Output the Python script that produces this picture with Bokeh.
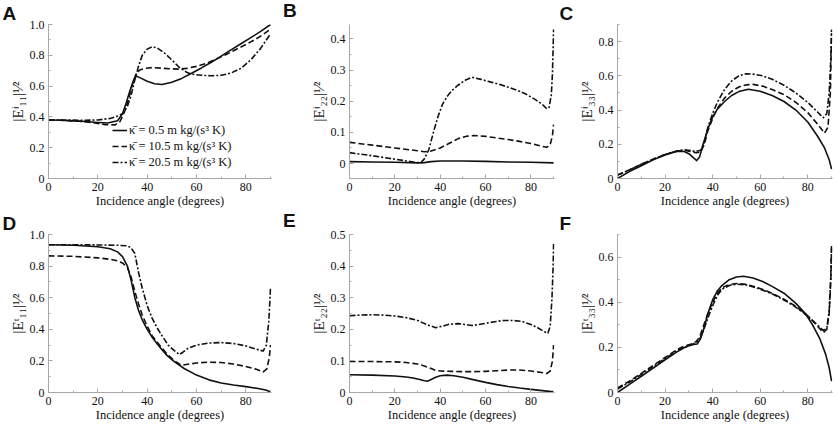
from bokeh.plotting import figure
from bokeh.layouts import row, column
from bokeh.models import Range1d, FixedTicker, CustomJSTickFormatter, Title, Div
from bokeh.embed import file_html
from bokeh.resources import INLINE

# ---------------- data ----------------
x_ticks = [0, 20, 40, 60, 80]
x_minor = [0, 10, 20, 30, 40, 50, 60, 70, 80, 90]

legend_labels = ["κ̄ = 0.5 m kg/(s³ K)", "κ̄ = 10.5 m kg/(s³ K)", "κ̄ = 20.5 m kg/(s³ K)"]
panel_letters = ["A", "B", "C", "D", "E", "F"]
y_labels = ["|Eⁱ₁₁|¹⁄²", "|Eⁱ₂₂|¹⁄²", "|Eⁱ₃₃|¹⁄²", "|Eᵗ₁₁|¹⁄²", "|Eᵗ₂₂|¹⁄²", "|Eᵗ₃₃|¹⁄²"]
x_label = "Incidence angle (degrees)"

# Panel A
a_ticks = [0, 0.2, 0.4, 0.6, 0.8, 1.0]
a_minor = [0, 0.1, 0.2, 0.3, 0.4, 0.5, 0.6, 0.7, 0.8, 0.9, 1.0]
a_solid_x = [0, 5, 10, 15, 20, 24, 28, 30, 31.5, 33, 34.5, 35.5, 37, 40, 43, 46, 50, 54, 58, 62, 66, 70, 74, 78, 82, 86, 90]
a_solid_y = [0.38, 0.378, 0.374, 0.37, 0.364, 0.36, 0.375, 0.42, 0.49, 0.57, 0.64, 0.665, 0.655, 0.632, 0.615, 0.61, 0.625, 0.65, 0.683, 0.718, 0.755, 0.795, 0.835, 0.875, 0.915, 0.955, 1.0]
a_dash_x = [0, 5, 10, 15, 20, 23, 27, 29, 31, 32.5, 34, 35.5, 37, 39, 42, 46, 50, 53, 56, 60, 64, 68, 72, 76, 80, 84, 87, 90]
a_dash_y = [0.38, 0.378, 0.374, 0.368, 0.358, 0.35, 0.348, 0.37, 0.44, 0.52, 0.61, 0.68, 0.705, 0.715, 0.72, 0.716, 0.712, 0.71, 0.715, 0.728, 0.748, 0.775, 0.805, 0.838, 0.87, 0.905, 0.935, 0.97]
a_dot_x = [0, 5, 10, 15, 20, 25, 28, 30, 32, 33.5, 34.5, 35.5, 36.5, 38, 40, 42, 44, 47, 50, 53, 56, 58, 62, 66, 70, 74, 78, 82, 86, 90]
a_dot_y = [0.38, 0.38, 0.379, 0.378, 0.38, 0.39, 0.405, 0.42, 0.47, 0.54, 0.61, 0.67, 0.73, 0.8, 0.84, 0.855, 0.848, 0.815, 0.77, 0.722, 0.69, 0.678, 0.67, 0.667, 0.67, 0.685, 0.715, 0.77, 0.845, 0.94]

# Panel B
b_ticks = [0, 0.1, 0.2, 0.3, 0.4]
b_minor = [-0.05, 0, 0.05, 0.1, 0.15, 0.2, 0.25, 0.3, 0.35, 0.4, 0.45]
b_solid_x = [0, 10, 20, 30, 33, 36, 40, 50, 60, 70, 80, 90]
b_solid_y = [0.006, 0.005, 0.004, 0.002, 0.003, 0.006, 0.008, 0.008, 0.007, 0.005, 0.004, 0.002]
b_dash_x = [0, 10, 20, 30, 33, 36, 40, 44, 48, 52, 55, 60, 65, 70, 75, 80, 84, 87, 88.5, 89.5, 90]
b_dash_y = [0.068, 0.059, 0.05, 0.041, 0.038, 0.04, 0.05, 0.065, 0.08, 0.088, 0.09, 0.087, 0.082, 0.077, 0.071, 0.064, 0.057, 0.052, 0.06, 0.09, 0.125]
b_dot_x = [0, 10, 20, 30, 31.5, 33, 35, 37, 39, 41, 43, 45, 48, 51, 54, 58, 62, 66, 70, 74, 78, 82, 85, 87, 88, 89, 89.5, 90]
b_dot_y = [0.035, 0.025, 0.014, 0.003, 0.003, 0.015, 0.045, 0.1, 0.15, 0.19, 0.215, 0.233, 0.252, 0.267, 0.277, 0.27, 0.262, 0.254, 0.245, 0.235, 0.222, 0.205, 0.19, 0.176, 0.18, 0.22, 0.29, 0.43]

# Panel C
c_ticks = [0, 0.2, 0.4, 0.6, 0.8]
c_minor = [0, 0.1, 0.2, 0.3, 0.4, 0.5, 0.6, 0.7, 0.8, 0.9]
c_solid_x = [0, 5, 10, 15, 20, 25, 28, 30, 32, 33.3, 34.5, 36, 38, 40, 42, 45, 48, 51, 55, 60, 65, 70, 75, 80, 84, 87, 89, 90]
c_solid_y = [0.0, 0.04, 0.075, 0.11, 0.138, 0.16, 0.158, 0.145, 0.12, 0.105, 0.125, 0.2, 0.29, 0.36, 0.405, 0.45, 0.485, 0.508, 0.522, 0.51, 0.485, 0.45, 0.4, 0.33, 0.25, 0.18, 0.11, 0.055]
c_dash_x = [0, 5, 10, 15, 20, 25, 28, 31, 33, 35, 36.5, 38, 40, 42, 45, 48, 51, 54, 57, 61, 65, 70, 75, 80, 84, 87, 88.5, 89.5, 90]
c_dash_y = [0.02, 0.05, 0.083, 0.113, 0.14, 0.16, 0.165, 0.158, 0.15, 0.155, 0.2, 0.28, 0.35, 0.41, 0.47, 0.51, 0.535, 0.547, 0.55, 0.54, 0.52, 0.49, 0.445, 0.385, 0.32, 0.265, 0.3, 0.5, 0.85]
c_dot_x = [0, 5, 10, 15, 20, 25, 28, 31, 33, 35, 36.5, 38, 40, 42, 45, 48, 51, 54, 57, 61, 65, 70, 75, 80, 84, 86.5, 88, 89, 89.7, 90]
c_dot_y = [0.02, 0.05, 0.083, 0.113, 0.14, 0.16, 0.168, 0.163, 0.158, 0.165, 0.21, 0.3, 0.38, 0.445, 0.52, 0.57, 0.6, 0.612, 0.61, 0.6, 0.58, 0.545, 0.5, 0.445, 0.39, 0.355, 0.38, 0.5, 0.7, 0.87]

# Panel D
d_ticks = [0, 0.2, 0.4, 0.6, 0.8, 1.0]
d_minor = [0, 0.1, 0.2, 0.3, 0.4, 0.5, 0.6, 0.7, 0.8, 0.9, 1.0]
d_solid_x = [0, 10, 20, 25, 28, 30, 32, 33.5, 35, 36.5, 38, 40, 42, 45, 48, 51, 55, 60, 65, 70, 75, 80, 85, 88, 90]
d_solid_y = [0.935, 0.932, 0.922, 0.91, 0.89, 0.86, 0.8, 0.71, 0.6, 0.52, 0.46, 0.4, 0.35, 0.29, 0.235, 0.195, 0.152, 0.11, 0.08, 0.06, 0.047, 0.037, 0.025, 0.016, 0.005]
d_dash_x = [0, 10, 20, 25, 28, 30, 32, 33.5, 35, 36.5, 38, 40, 42, 45, 48, 51, 54, 57, 60, 65, 70, 75, 80, 84, 87, 88.5, 89.5, 90]
d_dash_y = [0.865, 0.862, 0.852, 0.843, 0.833, 0.82, 0.79, 0.73, 0.64, 0.56, 0.49, 0.42, 0.36, 0.3, 0.245, 0.2, 0.172, 0.18, 0.187, 0.192, 0.19, 0.18, 0.165, 0.148, 0.13, 0.15, 0.22, 0.3]
d_dot_x = [0, 10, 20, 28, 32, 33.5, 35, 36.5, 38, 40, 42, 44, 46, 48.5, 51, 53, 54.5, 56.5, 60, 65, 70, 75, 80, 84, 87, 88.3, 89.3, 90]
d_dot_y = [0.935, 0.935, 0.934, 0.932, 0.928, 0.915, 0.88, 0.76, 0.66, 0.55, 0.47, 0.41, 0.36, 0.3, 0.265, 0.24, 0.255, 0.28, 0.3, 0.313, 0.316, 0.31, 0.295, 0.275, 0.262, 0.3, 0.45, 0.66]

# Panel E
e_ticks = [0, 0.1, 0.2, 0.3, 0.4, 0.5]
e_minor = [0, 0.05, 0.1, 0.15, 0.2, 0.25, 0.3, 0.35, 0.4, 0.45, 0.5]
e_solid_x = [0, 10, 20, 25, 28, 31, 33, 34.5, 36, 38, 40, 43, 46, 50, 55, 60, 65, 70, 75, 80, 85, 90]
e_solid_y = [0.056, 0.055, 0.052, 0.049, 0.046, 0.041, 0.037, 0.036, 0.041, 0.048, 0.053, 0.055, 0.053, 0.048, 0.04, 0.032, 0.025, 0.019, 0.014, 0.01, 0.006, 0.002]
e_dash_x = [0, 10, 20, 25, 30, 33, 36, 38, 40, 45, 50, 55, 60, 65, 70, 75, 80, 84, 87, 88.5, 89.5, 90]
e_dash_y = [0.098, 0.098, 0.097, 0.095, 0.09, 0.084, 0.076, 0.07, 0.068, 0.067, 0.066, 0.066, 0.067, 0.069, 0.071, 0.071, 0.068, 0.064, 0.06, 0.068, 0.1, 0.15]
e_dot_x = [0, 5, 10, 15, 20, 25, 30, 34, 38, 41, 44, 48, 51, 54, 57, 60, 64, 68, 72, 76, 80, 83, 86, 87.5, 88.5, 89.3, 89.8, 90]
e_dot_y = [0.243, 0.245, 0.246, 0.245, 0.242, 0.237, 0.228, 0.215, 0.205, 0.21, 0.216, 0.218, 0.215, 0.212, 0.215, 0.219, 0.224, 0.228, 0.228, 0.225, 0.215, 0.205, 0.192, 0.188, 0.21, 0.3, 0.4, 0.47]

# Panel F
f_ticks = [0, 0.2, 0.4, 0.6]
f_minor = [0, 0.1, 0.2, 0.3, 0.4, 0.5, 0.6, 0.7]
f_solid_x = [0, 5, 10, 15, 20, 25, 28, 30, 32, 33.5, 35, 36.5, 38, 40, 42, 44, 47, 50, 53, 57, 61, 65, 70, 75, 79, 82, 85, 87.5, 89, 90]
f_solid_y = [0.0, 0.036, 0.072, 0.108, 0.145, 0.18, 0.198, 0.207, 0.213, 0.215, 0.24, 0.29, 0.35, 0.41, 0.45, 0.475, 0.5, 0.512, 0.515, 0.507, 0.492, 0.47, 0.44, 0.395, 0.35, 0.3, 0.24, 0.17, 0.11, 0.05]
f_dash_x = [0, 5, 10, 15, 20, 25, 28, 31, 33, 34.5, 36, 38, 40, 42, 44, 47, 50, 54, 58, 62, 66, 70, 74, 78, 81, 84, 86.5, 88, 89, 89.7, 90]
f_dash_y = [0.02, 0.05, 0.085, 0.12, 0.155, 0.19, 0.205, 0.215, 0.225, 0.245, 0.29, 0.35, 0.4, 0.44, 0.465, 0.478, 0.483, 0.479, 0.468, 0.453, 0.435, 0.413, 0.388, 0.358, 0.33, 0.295, 0.265, 0.28, 0.35, 0.5, 0.64]
f_dot_x = [0, 5, 10, 15, 20, 25, 28, 31, 33, 34.5, 36, 38, 40, 42, 44, 47, 50, 54, 58, 62, 66, 70, 74, 78, 81, 84, 86.5, 88, 89, 89.7, 90]
f_dot_y = [0.015, 0.045, 0.08, 0.115, 0.15, 0.185, 0.2, 0.212, 0.22, 0.235, 0.27, 0.33, 0.385, 0.43, 0.458, 0.474, 0.48, 0.477, 0.465, 0.45, 0.432, 0.41, 0.385, 0.355, 0.328, 0.3, 0.275, 0.285, 0.36, 0.52, 0.65]

# ---------------- styling ----------------
SERIF = "Liberation Serif"
SANS = "Liberation Sans"
AX = "#a8a8a8"
INK = "#111111"
DASHES = ["solid", "6 3", "6 2 2 2"]

TOP_H, BOT_H = 210, 215
MID_GAP = 27   # empty column left of the middle panels (holds their letters)
panels = [
    dict(ylim=(0, 1.0), ticks=a_ticks, minor=a_minor,
         series=[(a_solid_x, a_solid_y), (a_dash_x, a_dash_y), (a_dot_x, a_dot_y)],
         w=280, h=TOP_H, bl=48, br=9, bt=24, bb=32, loff=-46),
    dict(ylim=(-0.048, 0.446), ticks=b_ticks, minor=b_minor,
         series=[(b_solid_x, b_solid_y), (b_dash_x, b_dash_y), (b_dot_x, b_dot_y)],
         w=277 - MID_GAP, h=TOP_H, bl=32, br=3, bt=24, bb=32, loff=None),
    dict(ylim=(0, 0.9), ticks=c_ticks, minor=c_minor,
         series=[(c_solid_x, c_solid_y), (c_dash_x, c_dash_y), (c_dot_x, c_dot_y)],
         w=277, h=TOP_H, bl=60, br=2, bt=24, bb=32, loff=-58),
    dict(ylim=(0, 1.0), ticks=d_ticks, minor=d_minor,
         series=[(d_solid_x, d_solid_y), (d_dash_x, d_dash_y), (d_dot_x, d_dot_y)],
         w=280, h=BOT_H, bl=48, br=9, bt=24, bb=33, loff=-46),
    dict(ylim=(0, 0.5), ticks=e_ticks, minor=e_minor,
         series=[(e_solid_x, e_solid_y), (e_dash_x, e_dash_y), (e_dot_x, e_dot_y)],
         w=277 - MID_GAP, h=BOT_H, bl=32, br=3, bt=24, bb=33, loff=None),
    dict(ylim=(0, 0.7), ticks=f_ticks, minor=f_minor,
         series=[(f_solid_x, f_solid_y), (f_dash_x, f_dash_y), (f_dot_x, f_dot_y)],
         w=277, h=BOT_H, bl=60, br=2, bt=24, bb=33, loff=-58),
]

figs = []
for i, cfg in enumerate(panels):
    p = figure(width=cfg["w"], height=cfg["h"], output_backend="svg", toolbar_location=None,
               x_range=Range1d(0, 90.4), y_range=Range1d(*cfg["ylim"]),
               min_border_left=cfg["bl"], min_border_right=cfg["br"],
               min_border_top=cfg["bt"], min_border_bottom=cfg["bb"])
    p.frame_align = False
    p.outline_line_color = None
    p.grid.visible = False
    p.background_fill_color = "white"
    p.border_fill_color = "white"

    for k, (xs, ys) in enumerate(cfg["series"]):
        kw = dict(line_color=INK, line_width=1.6, line_dash=DASHES[k], line_join="round")
        if i == 0:
            kw["legend_label"] = legend_labels[k]
        p.line(xs, ys, **kw)

    p.xaxis.ticker = FixedTicker(ticks=x_ticks, minor_ticks=x_minor)
    p.yaxis.ticker = FixedTicker(ticks=cfg["ticks"], minor_ticks=cfg["minor"])
    p.yaxis.formatter = CustomJSTickFormatter(code="return Math.abs(tick) < 1e-9 ? '0' : tick.toFixed(1);")
    p.xaxis.formatter = CustomJSTickFormatter(code="return tick.toFixed(0);")
    p.xaxis.axis_label = x_label
    p.yaxis.axis_label = y_labels[i]

    for ax in (p.xaxis, p.yaxis):
        ax.axis_line_color = AX
        ax.axis_line_width = 1
        ax.major_tick_line_color = AX
        ax.minor_tick_line_color = AX
        ax.major_tick_in = 4
        ax.major_tick_out = 0
        ax.minor_tick_in = 2
        ax.minor_tick_out = 0
        ax.major_label_text_font = SERIF
        ax.major_label_text_font_size = "12px"
        ax.major_label_text_color = INK
        ax.axis_label_text_font = SERIF
        ax.axis_label_text_font_size = "12.5px"
        ax.axis_label_text_font_style = "normal"
        ax.axis_label_text_color = INK
    p.yaxis.axis_label_text_font_size = "15px"
    p.xaxis.major_label_standoff = 4
    p.xaxis.axis_label_standoff = 0
    p.yaxis.major_label_standoff = 4
    p.yaxis.axis_label_standoff = 1

    # panel letter as a title drawn in the top border (middle column uses a Div)
    if cfg["loff"] is not None:
        p.title = Title(text=panel_letters[i], text_font=SANS, text_font_style="bold",
                        text_font_size="19px", text_color=INK, align="left",
                        vertical_align="middle", offset=cfg["loff"], standoff=0)

    if i == 0:
        lg = p.legend[0]
        lg.location = (64, 8)
        lg.background_fill_alpha = 0
        lg.border_line_alpha = 0
        lg.label_text_font = SERIF
        lg.label_text_font_size = "12.5px"
        lg.label_text_color = INK
        lg.glyph_width = 15
        lg.glyph_height = 16
        lg.label_height = 16
        lg.label_standoff = 2
        lg.spacing = 0
        lg.padding = 0
        lg.margin = 0

    figs.append(p)


def letter_div(letter, h):
    return Div(text=letter, width=MID_GAP, height=h, margin=0,
               styles={"font-family": SANS, "font-weight": "bold", "font-size": "19px",
                       "color": INK, "padding-left": "3px", "padding-top": "0px",
                       "line-height": "22px", "box-sizing": "border-box"})


layout = column(
    row(figs[0], letter_div(panel_letters[1], TOP_H), figs[1], figs[2]),
    row(figs[3], letter_div(panel_letters[4], BOT_H), figs[4], figs[5]),
)

open("out.html", "w").write(file_html(layout, INLINE))
